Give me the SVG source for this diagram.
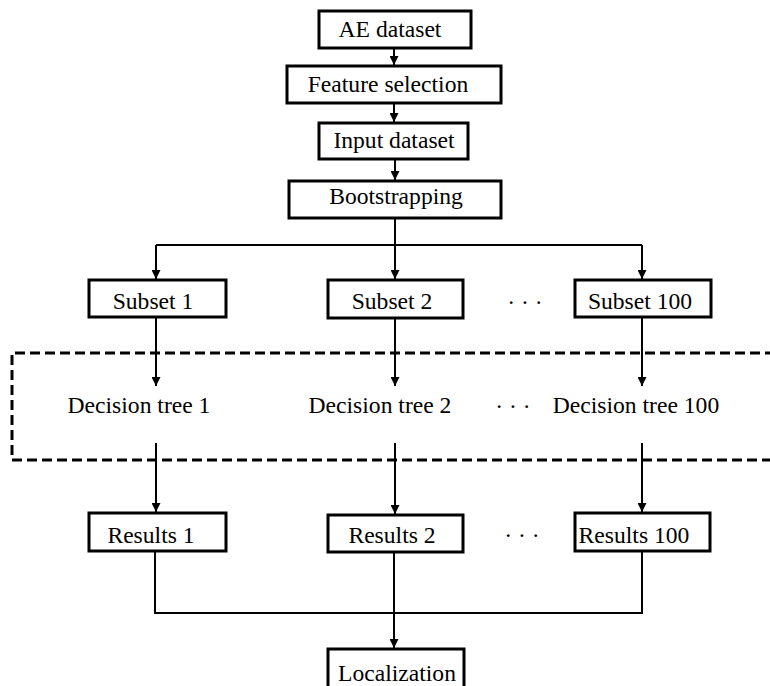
<svg xmlns="http://www.w3.org/2000/svg" width="770" height="686" viewBox="0 0 770 686">
<style>
.box{fill:#fff;stroke:#000;stroke-width:3}
.t{font-family:"Liberation Serif","Times New Roman",serif;font-size:23.6px;fill:#000;text-anchor:middle}
.ln{fill:none;stroke:#000;stroke-width:2}
.ar{fill:none;stroke:#000;stroke-width:2;marker-end:url(#ah)}
.dash{fill:none;stroke:#000;stroke-width:3;stroke-dasharray:10 5}
</style>
<defs>
<marker id="ah" viewBox="0 0 10 10" refX="10" refY="5" markerWidth="4.5" markerHeight="4.5" orient="auto" markerUnits="strokeWidth">
<path d="M0,0 L10,5 L0,10 z" fill="#000"/>
</marker>
</defs>
<rect width="770" height="686" fill="#fff"/>
<g id="connectors">
<line class="ar" x1="394" y1="48" x2="394" y2="65"/>
<line class="ar" x1="394" y1="103" x2="394" y2="122"/>
<line class="ar" x1="395" y1="159" x2="395" y2="180"/>
<polyline class="ln" points="395,218 395,245"/>
<polyline class="ln" points="156,245 642,245"/>
<line class="ar" x1="156" y1="245" x2="156" y2="279"/>
<line class="ar" x1="395" y1="245" x2="395" y2="279"/>
<line class="ar" x1="642" y1="245" x2="642" y2="279"/>
<line class="ar" x1="156" y1="317" x2="156" y2="386"/>
<line class="ar" x1="395" y1="318" x2="395" y2="386"/>
<line class="ar" x1="642" y1="317" x2="642" y2="386"/>
<line class="ar" x1="156" y1="443" x2="156" y2="512"/>
<line class="ar" x1="395" y1="443" x2="395" y2="514"/>
<line class="ar" x1="642" y1="443" x2="642" y2="512"/>
<polyline class="ln" points="155,551 155,613 642,613 642,551"/>
<line class="ar" x1="394" y1="552" x2="394" y2="648"/>
</g>
<g id="group-box">
<path class="dash" d="M775,353 H12 V460 H775"/>
</g>
<g id="n-ae"><rect class="box" x="319" y="11" width="152" height="37"/><text class="t" x="390" y="37">AE dataset</text></g>
<g id="n-feature"><rect class="box" x="287" y="66" width="214" height="37"/><text class="t" x="388" y="92">Feature selection</text></g>
<g id="n-input"><rect class="box" x="319" y="123" width="149" height="36"/><text class="t" x="394" y="148">Input dataset</text></g>
<g id="n-boot"><rect class="box" x="289" y="181" width="212" height="37"/><text class="t" x="396" y="204">Bootstrapping</text></g>
<g id="n-subset1"><rect class="box" x="89" y="280" width="137" height="37"/><text class="t" x="153" y="309">Subset 1</text></g>
<g id="n-subset2"><rect class="box" x="328" y="280" width="135" height="38"/><text class="t" x="392" y="309">Subset 2</text></g>
<g id="n-subset100"><rect class="box" x="575" y="280" width="136" height="37"/><text class="t" x="640" y="309">Subset 100</text></g>
<text class="t" x="525" y="310">· · ·</text>
<g id="n-dt1"><text class="t" x="139" y="413">Decision tree 1</text></g>
<g id="n-dt2"><text class="t" x="380" y="413">Decision tree 2</text></g>
<g id="n-dt100"><text class="t" x="636" y="413">Decision tree 100</text></g>
<text class="t" x="513" y="414">· · ·</text>
<g id="n-res1"><rect class="box" x="89" y="513" width="137" height="38"/><text class="t" x="151" y="543">Results 1</text></g>
<g id="n-res2"><rect class="box" x="328" y="515" width="135" height="37"/><text class="t" x="392" y="543">Results 2</text></g>
<g id="n-res100"><rect class="box" x="575" y="513" width="135" height="38"/><text class="t" x="634" y="543">Results 100</text></g>
<text class="t" x="522" y="543">· · ·</text>
<g id="n-loc"><rect class="box" x="328" y="649" width="136" height="45"/><text class="t" x="397" y="681">Localization</text></g>
</svg>
